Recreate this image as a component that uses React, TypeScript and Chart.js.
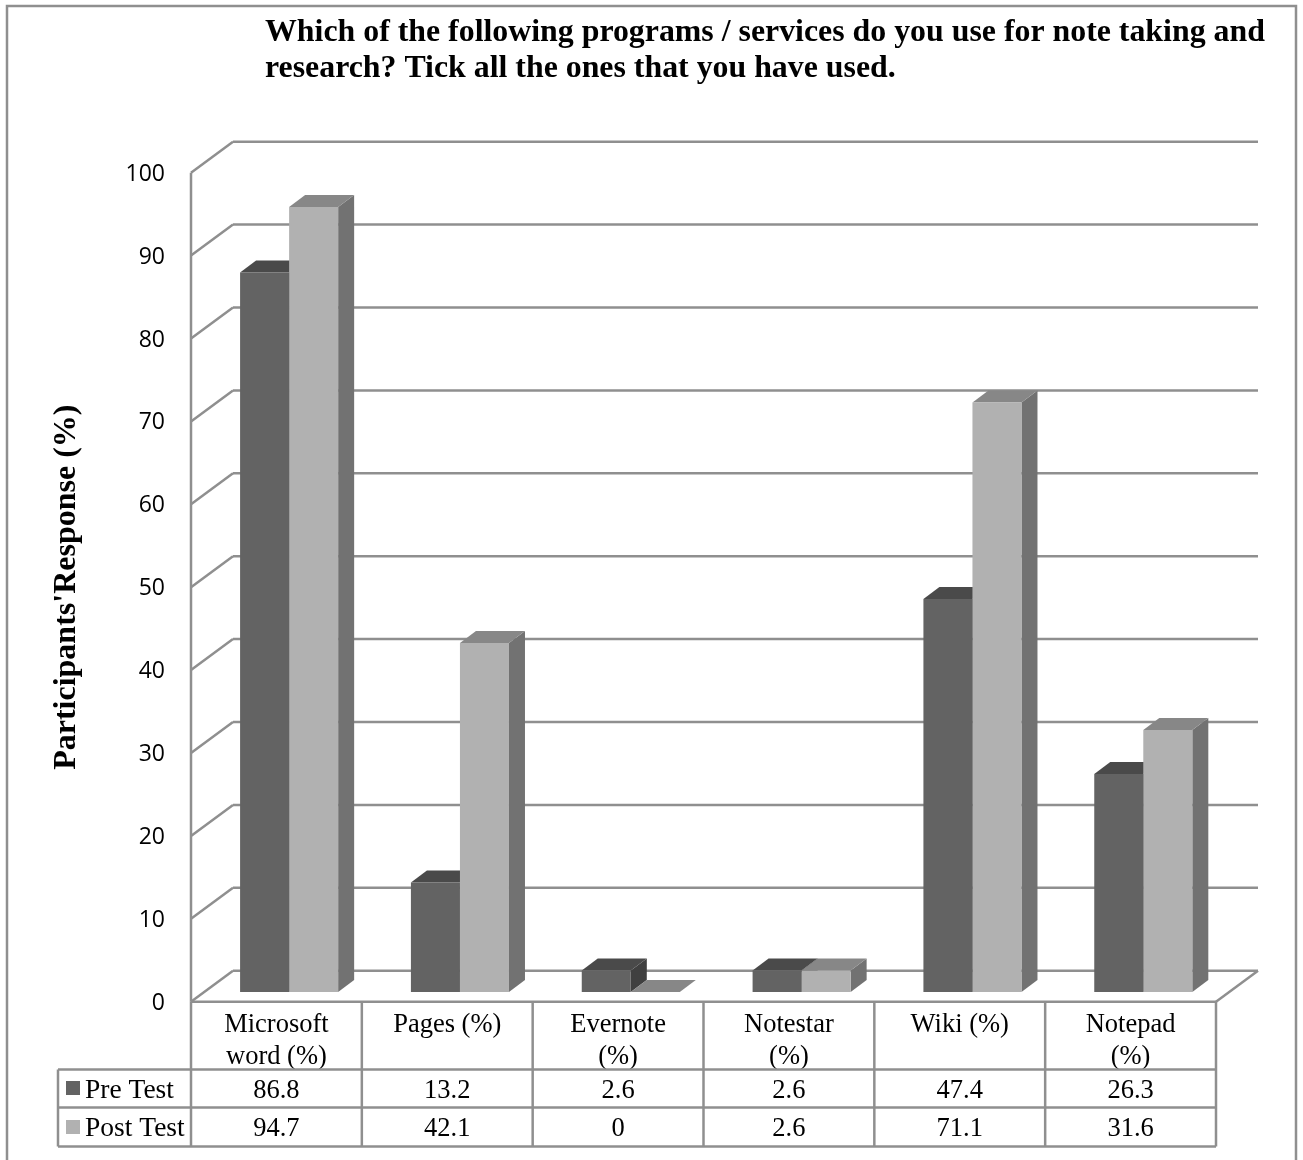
import { useEffect, useRef } from "react";
import { Chart, registerables } from "chart.js";

Chart.register(...registerables);

const titleLines = [
  "Which of the following programs / services do you use for note taking and",
  "research? Tick all the ones that you have used.",
];
const axisTitle = "Participants'Response (%)";
const categories = [
  ["Microsoft", "word (%)"],
  ["Pages (%)"],
  ["Evernote", "(%)"],
  ["Notestar", "(%)"],
  ["Wiki (%)"],
  ["Notepad", "(%)"],
];
const preTest = [86.8, 13.2, 2.6, 2.6, 47.4, 26.3];
const postTest = [94.7, 42.1, 0, 2.6, 71.1, 31.6];

const SERIF = '"Liberation Serif", "Times New Roman", serif';
const LINE = "#8f8f8f";
const LINE_WIDTH = 2.5;

// Colours of the three visible faces of each series' prisms.
const faces = [
  { front: "#636363", top: "#4a4a4a", side: "#404040" },
  { front: "#b1b1b1", top: "#878787", side: "#727272" },
];

// Oblique projection: the wall sits behind the front plane, the bars in between.
const WALL_DX = 42;
const WALL_DY = -31;
const BAR_DX = 12.7;
const BAR_DY = -9.7;
const DEPTH_DX = 16;
const DEPTH_DY = -12;

// Data table rows below the plot.
const ROW_TOP = 1069.5;
const ROW_MID = 1107.5;
const ROW_END = 1146.5;
const TABLE_LEFT = 58;

function poly(ctx: CanvasRenderingContext2D, pts: number[][], fill: string) {
  ctx.fillStyle = fill;
  ctx.beginPath();
  pts.forEach(([x, y], i) => (i ? ctx.lineTo(x, y) : ctx.moveTo(x, y)));
  ctx.closePath();
  ctx.fill();
}

function segment(ctx: CanvasRenderingContext2D, x1: number, y1: number, x2: number, y2: number) {
  ctx.beginPath();
  ctx.moveTo(x1, y1);
  ctx.lineTo(x2, y2);
  ctx.stroke();
}

const chart3d = {
  id: "chart3d",
  beforeDraw(chart: any) {
    // Outer frame, open along the bottom edge.
    const ctx = chart.ctx;
    ctx.save();
    ctx.strokeStyle = LINE;
    ctx.lineWidth = LINE_WIDTH;
    ctx.beginPath();
    ctx.moveTo(7, 1160);
    ctx.lineTo(7, 6);
    ctx.lineTo(1296, 6);
    ctx.lineTo(1296, 1160);
    ctx.stroke();

    // Two-line heading, set flush left above the plot.
    ctx.fillStyle = "#000";
    ctx.font = `bold 31.85px ${SERIF}`;
    ctx.textAlign = "left";
    ctx.textBaseline = "alphabetic";
    ctx.fillText(titleLines[0], 265, 41);
    ctx.fillText(titleLines[1], 265, 76.5);
    ctx.restore();
  },
  beforeDatasetsDraw(chart: any) {
    const { ctx, chartArea: a, scales } = chart;
    const yScale = scales.y;
    ctx.save();
    ctx.strokeStyle = LINE;
    ctx.lineWidth = LINE_WIDTH;
    // Walls: one line per tick along the back, one down the side wall.
    yScale.ticks.forEach((t: any) => {
      const y = yScale.getPixelForValue(t.value);
      segment(ctx, a.left, y, a.left + WALL_DX, y + WALL_DY);
      segment(ctx, a.left + WALL_DX, y + WALL_DY, a.right + WALL_DX, y + WALL_DY);
    });
    segment(ctx, a.left, a.top, a.left, a.bottom);
    segment(ctx, a.right, a.bottom, a.right + WALL_DX, a.bottom + WALL_DY);
    ctx.restore();

    // Side and top faces go down first, so the fronts cover them.
    ctx.save();
    ctx.translate(BAR_DX, BAR_DY);
    chart.data.datasets.forEach((_: any, di: number) => {
      const c = faces[di];
      chart.getDatasetMeta(di).data.forEach((bar: any) => {
        const p = bar.getProps(["x", "y", "base", "width"], true);
        const l = p.x - p.width / 2;
        const r = p.x + p.width / 2;
        poly(ctx, [[r, p.y], [r + DEPTH_DX, p.y + DEPTH_DY], [r + DEPTH_DX, p.base + DEPTH_DY], [r, p.base]], c.side);
        poly(ctx, [[l, p.y], [l + DEPTH_DX, p.y + DEPTH_DY], [r + DEPTH_DX, p.y + DEPTH_DY], [r, p.y]], c.top);
      });
    });
    ctx.restore();

    // The fronts drawn by the library share this offset until afterDatasetsDraw.
    ctx.save();
    ctx.translate(BAR_DX, BAR_DY);
  },
  afterDatasetsDraw(chart: any) {
    const { ctx, chartArea: a, scales } = chart;
    ctx.restore();

    const n = categories.length;
    const cell = (a.right - a.left) / n;
    ctx.save();
    ctx.strokeStyle = LINE;
    ctx.lineWidth = LINE_WIDTH;
    segment(ctx, a.left, a.bottom, a.right, a.bottom);
    segment(ctx, TABLE_LEFT, ROW_TOP, a.right, ROW_TOP);
    segment(ctx, TABLE_LEFT, ROW_MID, a.right, ROW_MID);
    segment(ctx, TABLE_LEFT, ROW_END, a.right, ROW_END);
    segment(ctx, TABLE_LEFT, ROW_TOP, TABLE_LEFT, ROW_END);
    for (let i = 0; i <= n; i++) {
      const x = a.left + cell * i;
      segment(ctx, x, a.bottom, x, ROW_END);
    }

    ctx.textBaseline = "alphabetic";
    const baselines = [1097.5, 1135.5];
    const keyTops = [1081, 1120];
    chart.data.datasets.forEach((ds: any, di: number) => {
      ctx.fillStyle = faces[di].front;
      ctx.fillRect(66, keyTops[di], 14, 14);
      ctx.fillStyle = "#000";
      ctx.textAlign = "left";
      ctx.font = `27.5px ${SERIF}`;
      ctx.fillText(ds.label, 85, baselines[di]);
      ctx.textAlign = "center";
      ctx.font = `26.5px ${SERIF}`;
      ds.data.forEach((v: number, i: number) => {
        ctx.fillText(String(v), scales.x.getPixelForTick(i), baselines[di]);
      });
    });
    ctx.restore();
  },
};

export default function App() {
  const ref = useRef<HTMLCanvasElement>(null);

  useEffect(() => {
    const chart = new Chart(ref.current!, {
      type: "bar",
      plugins: [chart3d],
      data: {
        labels: categories,
        datasets: [
          { label: "Pre Test", data: preTest, backgroundColor: faces[0].front, clip: false },
          { label: "Post Test", data: postTest, backgroundColor: faces[1].front, clip: false },
        ],
      } as any,
      options: {
        animation: false,
        responsive: false,
        layout: { padding: { top: 172.7, left: 0, right: 87, bottom: 0 } },
        datasets: { bar: { categoryPercentage: 0.574, barPercentage: 1, borderWidth: 0 } },
        plugins: {
          legend: { display: false },
          tooltip: { enabled: false },
          title: { display: false },
        },
        scales: {
          x: {
            grid: { display: false, drawTicks: false },
            border: { display: false },
            afterFit: (s: any) => {
              s.height = 158.3;
            },
            ticks: {
              autoSkip: false,
              maxRotation: 0,
              minRotation: 0,
              padding: 7.5,
              color: "#000",
              font: { family: SERIF, size: 26.5, lineHeight: 1.2 },
            },
          },
          y: {
            min: 0,
            max: 100,
            grid: { display: false, drawTicks: false },
            border: { display: false },
            afterFit: (s: any) => {
              s.width = 191;
            },
            title: {
              display: true,
              text: axisTitle,
              color: "#000",
              font: { family: SERIF, size: 32, weight: "bold", lineHeight: 1.2 },
              padding: { top: 48, bottom: 0 },
            },
            ticks: {
              stepSize: 10,
              padding: 26,
              labelOffset: 1.5,
              color: "#000",
              font: { family: '"Open Sans"', size: 23 },
            },
          },
        },
      },
    } as any);
    return () => chart.destroy();
  }, []);

  return (
    <div style={{ position: "absolute", left: 0, top: 0, width: 1303, height: 1160, background: "#fff" }}>
      <canvas ref={ref} width={1303} height={1160} style={{ display: "block" }} />
    </div>
  );
}
